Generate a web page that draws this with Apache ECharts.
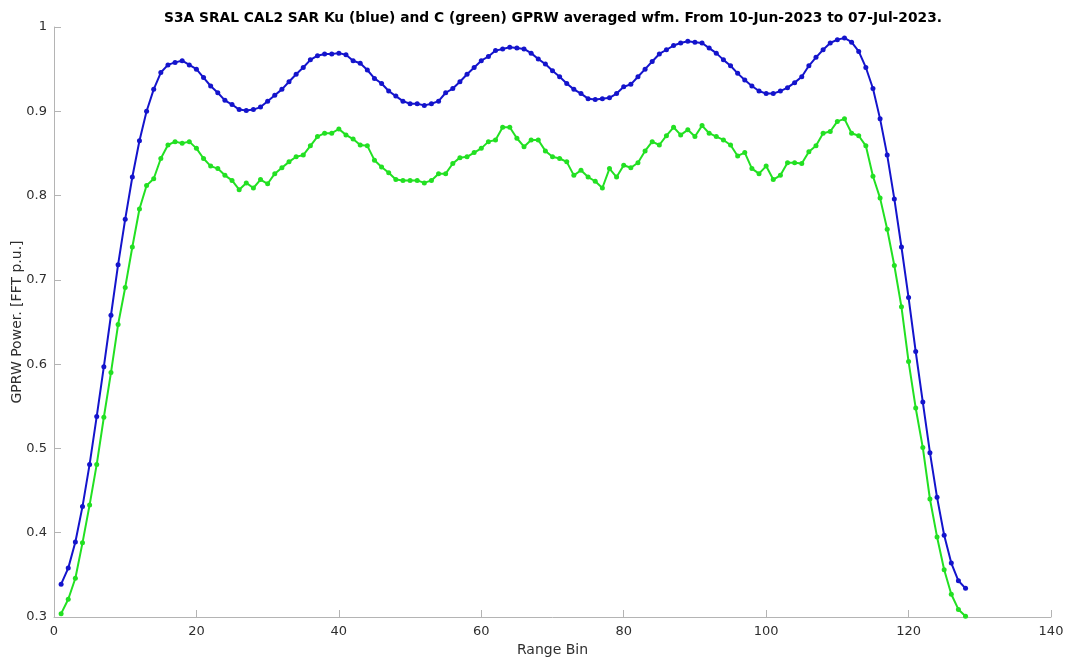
<!DOCTYPE html>
<html>
<head>
<meta charset="utf-8">
<title>S3A SRAL CAL2 SAR GPRW</title>
<script src="https://cdn.jsdelivr.net/npm/echarts@6/dist/echarts.min.js"></script>
<style>
    html, body { margin: 0; padding: 0; background: #fff; }
    #chart { width: 1067px; height: 661px; }
</style>
</head>
<body>
<div id="chart"></div>
<script>
// GPRW averaged waveform, one value per range bin (1..128)
var ku_values = [
    0.339, 0.358, 0.389, 0.431, 0.481, 0.538, 0.597, 0.658, 0.718, 0.772,
    0.822, 0.865, 0.900, 0.926, 0.946, 0.955, 0.958, 0.960, 0.955, 0.950,
    0.940, 0.930, 0.922, 0.913, 0.908, 0.902, 0.901, 0.902, 0.905, 0.912,
    0.919, 0.926, 0.935, 0.944, 0.952, 0.961, 0.966, 0.968, 0.968, 0.969,
    0.967, 0.960, 0.957, 0.949, 0.939, 0.933, 0.924, 0.918, 0.912, 0.909,
    0.909, 0.907, 0.909, 0.912, 0.922, 0.927, 0.935, 0.944, 0.952, 0.960,
    0.965, 0.972, 0.974, 0.976, 0.975, 0.974, 0.969, 0.962, 0.956, 0.948,
    0.941, 0.933, 0.926, 0.921, 0.915, 0.914, 0.915, 0.916, 0.921, 0.929,
    0.932, 0.941, 0.950, 0.959, 0.968, 0.973, 0.978, 0.981, 0.983, 0.982,
    0.981, 0.975, 0.969, 0.961, 0.954, 0.945, 0.937, 0.930, 0.924, 0.921,
    0.921, 0.924, 0.928, 0.934, 0.941, 0.954, 0.964, 0.973, 0.981, 0.985,
    0.987, 0.982, 0.971, 0.952, 0.927, 0.891, 0.848, 0.796, 0.739, 0.679,
    0.615, 0.555, 0.495, 0.442, 0.397, 0.364, 0.343, 0.334
];
var c_values = [
    0.304, 0.321, 0.346, 0.388, 0.433, 0.481, 0.537, 0.590, 0.647, 0.691,
    0.739, 0.784, 0.812, 0.820, 0.844, 0.860, 0.864, 0.862, 0.864, 0.856,
    0.844, 0.835, 0.832, 0.824, 0.818, 0.807, 0.815, 0.809, 0.819, 0.814,
    0.826, 0.833, 0.840, 0.846, 0.848, 0.859, 0.870, 0.874, 0.874, 0.879,
    0.872, 0.867, 0.860, 0.859, 0.842, 0.834, 0.827, 0.819, 0.818, 0.818,
    0.818, 0.815, 0.818, 0.826, 0.826, 0.838, 0.845, 0.846, 0.851, 0.856,
    0.864, 0.866, 0.881, 0.881, 0.868, 0.858, 0.866, 0.866, 0.853, 0.846,
    0.844, 0.840, 0.824, 0.830, 0.822, 0.817, 0.809, 0.832, 0.822, 0.836,
    0.833, 0.839, 0.853, 0.864, 0.860, 0.871, 0.881, 0.872, 0.878, 0.870,
    0.883, 0.874, 0.870, 0.866, 0.860, 0.847, 0.851, 0.832, 0.826, 0.835,
    0.819, 0.824, 0.839, 0.839, 0.838, 0.852, 0.859, 0.874, 0.876, 0.888,
    0.891, 0.874, 0.871, 0.859, 0.823, 0.797, 0.760, 0.717, 0.668, 0.603,
    0.548, 0.501, 0.440, 0.395, 0.356, 0.327, 0.309, 0.301
];
var x_ticks = [0, 20, 40, 60, 80, 100, 120, 140];
var y_ticks = [0.3, 0.4, 0.5, 0.6, 0.7, 0.8, 0.9, 1];

// range bin numbers start at 1
function toPairs(values) {
    return values.map(function (v, i) { return [i + 1, v]; });
}

var axisGray = '#b4b4b4';
var textGray = '#2e2e2e';

var option = {
    animation: false,
    backgroundColor: '#ffffff',
    title: {
        text: 'S3A SRAL CAL2 SAR Ku (blue) and C (green) GPRW averaged wfm. From 10-Jun-2023 to 07-Jul-2023.',
        left: 548,
        textAlign: 'center',
        top: 6,
        textStyle: {
            fontFamily: 'DejaVu Sans',
            fontSize: 13.8,
            fontWeight: 'bold',
            color: '#000000'
        }
    },
    grid: {
        left: 54,
        right: 16,
        top: 27,
        bottom: 44,
        outerBoundsMode: 'none'
    },
    xAxis: {
        type: 'value',
        min: x_ticks[0],
        max: x_ticks[x_ticks.length - 1],
        interval: 20,
        name: 'Range Bin',
        nameLocation: 'middle',
        nameGap: 26,
        nameMoveOverlap: false,
        nameTextStyle: { fontFamily: 'DejaVu Sans', fontSize: 14, color: textGray },
        axisLine: { lineStyle: { color: axisGray, width: 1 } },
        axisTick: { inside: true, length: 7, lineStyle: { color: axisGray } },
        axisLabel: { margin: 8, fontFamily: 'DejaVu Sans', fontSize: 13, color: textGray },
        splitLine: { show: false }
    },
    yAxis: {
        type: 'value',
        min: y_ticks[0],
        max: y_ticks[y_ticks.length - 1],
        interval: 0.1,
        name: 'GPRW Power. [FFT p.u.]',
        nameLocation: 'middle',
        nameGap: 30,
        nameMoveOverlap: false,
        nameTextStyle: { fontFamily: 'DejaVu Sans', fontSize: 14, color: textGray },
        axisLine: { show: true, lineStyle: { color: axisGray, width: 1 } },
        axisTick: { show: true, inside: true, length: 7, lineStyle: { color: axisGray } },
        axisLabel: {
            margin: 7,
            fontFamily: 'DejaVu Sans',
            fontSize: 13,
            color: textGray,
            formatter: function (v) { return String(Math.round(v * 10) / 10); }
        },
        splitLine: { show: false }
    },
    series: [
        {
            name: 'C',
            type: 'line',
            data: toPairs(c_values),
            symbol: 'circle',
            symbolSize: 5,
            showSymbol: true,
            lineStyle: { color: '#22e022', width: 2 },
            itemStyle: { color: '#22e022' }
        },
        {
            name: 'Ku',
            type: 'line',
            data: toPairs(ku_values),
            symbol: 'circle',
            symbolSize: 5,
            showSymbol: true,
            lineStyle: { color: '#1414cc', width: 2 },
            itemStyle: { color: '#1414cc' }
        }
    ]
};

var chart = echarts.init(document.getElementById('chart'));
chart.setOption(option);
</script>
</body>
</html>
